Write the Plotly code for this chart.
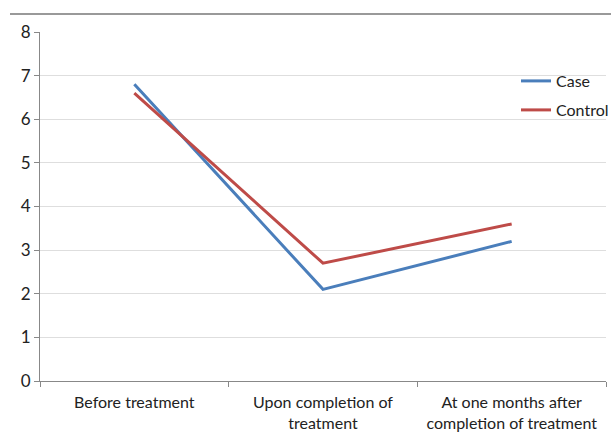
import plotly.graph_objects as go

categories = ["Before treatment", "Upon completion of<br>treatment", "At one months after<br>completion of treatment"]
case_values = [6.8, 2.1, 3.2]
control_values = [6.6, 2.7, 3.6]
y_ticks = [0, 1, 2, 3, 4, 5, 6, 7, 8]

font_family = "Lato, 'Open Sans', sans-serif"

fig = go.Figure()
fig.add_trace(go.Scatter(x=categories, y=case_values, mode="lines", name="Case",
                         line=dict(color="#4a7ebb", width=3), legend="legend", showlegend=True))
fig.add_trace(go.Scatter(x=categories, y=control_values, mode="lines", name="Control",
                         line=dict(color="#be4b48", width=3), legend="legend2", showlegend=True))

legend_common = dict(xanchor="left", yanchor="middle", bgcolor="rgba(0,0,0,0)",
                     font=dict(family=font_family, size=16, color="#222"),
                     itemwidth=30, tracegroupgap=0, visible=True)

fig.update_layout(
    width=611, height=432,
    showlegend=True,
    margin=dict(l=40, r=5, t=32, b=51, autoexpand=False),
    paper_bgcolor="white", plot_bgcolor="white",
    font=dict(family=font_family, size=16, color="#222"),
    legend=dict(x=(516 - 40) / 566, y=(381 - 81) / 349, **legend_common),
    legend2=dict(x=(516 - 40) / 566, y=(381 - 110) / 349, **legend_common),
    xaxis=dict(type="category", tickson="boundaries", ticks="outside", ticklen=5,
               tickcolor="#888", showline=True, linecolor="#888", linewidth=1,
               showgrid=False, range=[-0.5, 2.5], automargin=False,
               ticklabelstandoff=7,
               tickfont=dict(family=font_family, size=16, color="#222")),
    yaxis=dict(range=[0, 8], tickvals=y_ticks, ticks="outside", ticklen=5,
               tickcolor="#888", showline=True, linecolor="#888", linewidth=1,
               showgrid=True, gridcolor="#dedede", gridwidth=1, zeroline=False,
               automargin=False,
               tickfont=dict(family=font_family, size=17, color="#222")),
    shapes=[dict(type="line", xref="paper", yref="paper",
                 x0=(10 - 40) / 566, x1=(611 - 40) / 566,
                 y0=(381 - 14) / 349, y1=(381 - 14) / 349,
                 line=dict(color="#999", width=2))],
)

fig.write_html("out.html", config={"displayModeBar": False},
               post_script="document.body.style.margin='0';document.body.style.overflow='hidden';")
